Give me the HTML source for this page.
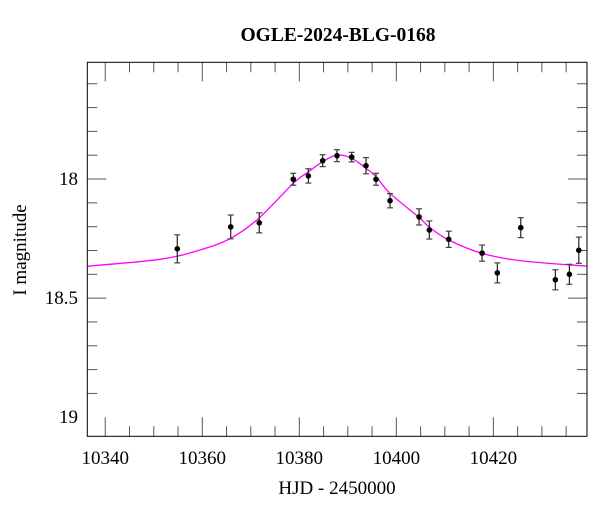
<!DOCTYPE html>
<html><head><meta charset="utf-8"><style>
html,body{margin:0;padding:0;background:#fff;}
svg text{font-family:"Liberation Serif",serif;fill:#000;}
</style></head><body>
<svg id="chart" width="600" height="512" viewBox="0 0 600 512" xmlns="http://www.w3.org/2000/svg">
<rect x="0" y="0" width="600" height="512" fill="#fff"/>
<text x="338" y="41" text-anchor="middle" font-size="19.5" font-weight="bold">OGLE-2024-BLG-0168</text>
<text x="337" y="494" text-anchor="middle" font-size="19">HJD - 2450000</text>
<text transform="translate(26,250) rotate(-90)" text-anchor="middle" font-size="19">I magnitude</text>
<g id="axes"></g>
<g id="marks"></g>
<rect x="87.3" y="62.3" width="499.7" height="374" fill="none" stroke="#000" stroke-width="1"/>
</svg>
<script>
const days = [10354.85,10365.86,10371.75,10378.76,10381.86,10384.82,10387.77,10390.80,10393.75,10395.81,10398.70,10404.68,10406.80,10410.80,10417.67,10420.82,10425.65,10432.78,10435.67,10437.61];
const mags = [18.293,18.201,18.184,18.001,17.987,17.923,17.902,17.908,17.944,18.001,18.091,18.159,18.214,18.253,18.311,18.394,18.204,18.423,18.400,18.299];
const errs = [0.059,0.05,0.042,0.025,0.03,0.025,0.025,0.02,0.034,0.025,0.03,0.034,0.038,0.034,0.034,0.042,0.042,0.042,0.042,0.055];
const modelDays = [10336.3,10351.28,10359.5,10365.86,10371.75,10378.76,10381.86,10384.82,10387.77,10390.80,10393.75,10395.81,10398.70,10404.68,10406.8,10410.8,10417.67,10425.65,10439.3];
const modelMags = [18.366,18.337,18.298,18.249,18.163,18.018,17.970,17.927,17.899,17.913,17.955,17.990,18.060,18.161,18.202,18.256,18.312,18.343,18.366];
const xTickLabels = ["10340","10360","10380","10400","10420"];
const yTickLabels = ["18","18.5","19"];

const L=87.3,R=587,T=62.3,B=436.3;
const xMin=10336.3,xMax=10439.3,yMin=17.51,yMax=19.08;
const X=d=>L+(d-xMin)/(xMax-xMin)*(R-L);
const Y=m=>T+(m-yMin)/(yMax-yMin)*(B-T);
const NS="http://www.w3.org/2000/svg";
const axes=document.getElementById('axes'), marks=document.getElementById('marks');
function mk(tag,attrs,parent){const e=document.createElementNS(NS,tag);for(const k in attrs)e.setAttribute(k,attrs[k]);parent.appendChild(e);return e;}

for(let d=10340; d<=xMax; d+=5){
  const major=(d%20===0), len=major?19:10, x=X(d);
  const t1=mk('line',{x1:x,y1:B,x2:x,y2:B-len,stroke:'#555','stroke-width':1},axes);
  
  
  const t2=mk('line',{x1:x,y1:T,x2:x,y2:T+len,stroke:'#555','stroke-width':1},axes);
  
  
}
xTickLabels.forEach(s=>{
  const t=mk('text',{x:X(+s),y:464,'text-anchor':'middle','font-size':19},axes);
  t.textContent=s;
  
  
});
for(let i=6;i<=19;i++){
  const m=17+i*0.1; const major=(i%5===0), len=major?19:10, y=Y(m);
  if(y>B+0.5) continue;
  const t1=mk('line',{x1:L,y1:y,x2:L+len,y2:y,stroke:'#555','stroke-width':1},axes);
  
  
  const t2=mk('line',{x1:R,y1:y,x2:R-len,y2:y,stroke:'#555','stroke-width':1},axes);
  
  
}
yTickLabels.forEach(s=>{
  const t=mk('text',{x:78,y:Y(+s)+6,'text-anchor':'end','font-size':19},axes);
  t.textContent=s;
  
  
});

const pts=modelDays.map((d,i)=>[X(d),Y(modelMags[i])]);
let dstr=`M${pts[0][0]},${pts[0][1]}`;
for(let i=0;i<pts.length-1;i++){
  const p0=pts[Math.max(0,i-1)],p1=pts[i],p2=pts[i+1],p3=pts[Math.min(pts.length-1,i+2)];
  const c1=[p1[0]+(p2[0]-p0[0])/6,p1[1]+(p2[1]-p0[1])/6];
  const c2=[p2[0]-(p3[0]-p1[0])/6,p2[1]-(p3[1]-p1[1])/6];
  dstr+=` C${c1[0]},${c1[1]} ${c2[0]},${c2[1]} ${p2[0]},${p2[1]}`;
}
const curve=mk('path',{d:dstr,fill:'none',stroke:'#ff00ff','stroke-width':1.3},marks);



days.forEach((d,i)=>{
  const x=X(d),y=Y(mags[i]),y1=Y(mags[i]-errs[i]),y2=Y(mags[i]+errs[i]);
  const g=mk('g',{},marks);
  
  
  mk('line',{x1:x,y1:y1,x2:x,y2:y2,stroke:'#222','stroke-width':1.2},g);
  mk('line',{x1:x-3,y1:y1,x2:x+3,y2:y1,stroke:'#444','stroke-width':1.2},g);
  mk('line',{x1:x-3,y1:y2,x2:x+3,y2:y2,stroke:'#444','stroke-width':1.2},g);
  mk('circle',{cx:x,cy:y,r:2.8,fill:'#000'},g);
});
</script>
</body></html>
